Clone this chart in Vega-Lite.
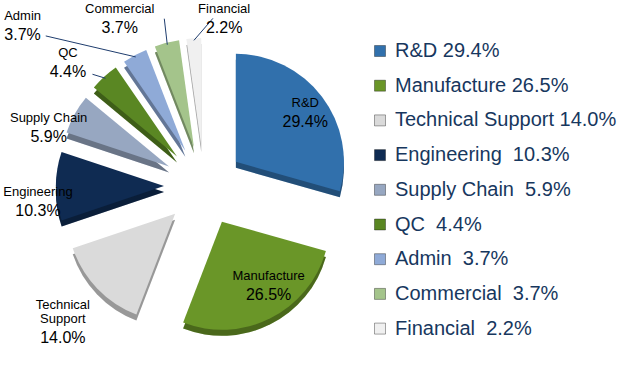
{
  "$schema": "https://vega.github.io/schema/vega-lite/v6.json",
  "width": 634,
  "height": 369,
  "autosize": {"type": "none"},
  "padding": 0,
  "background": "white",
  "config": {"view": {"stroke": null}, "font": "Liberation Sans"},
  "data": {
    "values": [
      {"category": "R&D", "value": 29.4, "name": "R&D", "pct": "29.4%", "legend": "R&D 29.4%"},
      {"category": "Manufacture", "value": 26.5, "name": "Manufacture", "pct": "26.5%", "legend": "Manufacture 26.5%"},
      {"category": "Technical Support", "value": 14.0, "name": "Technical\nSupport", "pct": "14.0%", "legend": "Technical Support 14.0%"},
      {"category": "Engineering", "value": 10.3, "name": "Engineering", "pct": "10.3%", "legend": "Engineering\u00a0 10.3%"},
      {"category": "Supply Chain", "value": 5.9, "name": "Supply Chain", "pct": "5.9%", "legend": "Supply Chain\u00a0 5.9%"},
      {"category": "QC", "value": 4.4, "name": "QC", "pct": "4.4%", "legend": "QC\u00a0 4.4%"},
      {"category": "Admin", "value": 3.7, "name": "Admin", "pct": "3.7%", "legend": "Admin\u00a0 3.7%"},
      {"category": "Commercial", "value": 3.7, "name": "Commercial", "pct": "3.7%", "legend": "Commercial\u00a0 3.7%"},
      {"category": "Financial", "value": 2.2, "name": "Financial", "pct": "2.2%", "legend": "Financial\u00a0 2.2%"}
    ]
  },
  "transform": [
    {"joinaggregate": [{"op": "sum", "field": "value", "as": "total"}]},
    {"window": [{"op": "sum", "field": "value", "as": "cum"}], "frame": [null, 0]},
    {"calculate": "(datum.cum - datum.value) / datum.total", "as": "t0"},
    {"calculate": "datum.cum / datum.total", "as": "t1"},
    {"calculate": "sin(PI * (datum.t0 + datum.t1))", "as": "ux"},
    {"calculate": "cos(PI * (datum.t0 + datum.t1))", "as": "uy"}
  ],
  "layer": [
    {
      "mark": {"type": "arc", "outerRadius": 108, "yOffset": 6},
      "encoding": {
        "theta": {"field": "t0", "type": "quantitative", "scale": {"domain": [0, 1]}, "stack": null},
        "theta2": {"field": "t1"},
        "x": {"field": "ux", "type": "quantitative", "scale": {"domain": [-1, 1], "range": [164, 244]}, "axis": null},
        "y": {"field": "uy", "type": "quantitative", "scale": {"domain": [-1, 1], "range": [226, 146]}, "axis": null},
        "color": {
          "field": "legend", "type": "nominal", "sort": null,
          "scale": {
            "domain": ["R&D 29.4%", "Manufacture 26.5%", "Technical Support 14.0%", "Engineering\u00a0 10.3%", "Supply Chain\u00a0 5.9%", "QC\u00a0 4.4%", "Admin\u00a0 3.7%", "Commercial\u00a0 3.7%", "Financial\u00a0 2.2%"],
            "range": ["#3170AC", "#6A9628", "#DADADA", "#0F2B52", "#97A7C1", "#5A8723", "#8FAAD7", "#A4C48B", "#F0F0F0"]
          },
          "legend": {
            "title": null, "orient": "none", "legendX": 370, "legendY": 41,
            "symbolType": "square", "symbolSize": 121, "symbolStrokeColor": "rgba(0,0,0,0.35)", "symbolStrokeWidth": 1,
            "labelFontSize": 20, "labelFont": "Liberation Sans", "labelColor": "#17375E", "labelOffset": 5,
            "rowPadding": 14.7, "padding": 0, "labelLimit": 300
          }
        }
      }
    },
    {
      "mark": {"type": "arc", "outerRadius": 108, "yOffset": 6, "fill": "#000000", "fillOpacity": 0.3},
      "encoding": {
        "theta": {"field": "t0", "type": "quantitative", "scale": {"domain": [0, 1]}, "stack": null},
        "theta2": {"field": "t1"},
        "x": {"field": "ux", "type": "quantitative", "scale": {"domain": [-1, 1], "range": [164, 244]}, "axis": null},
        "y": {"field": "uy", "type": "quantitative", "scale": {"domain": [-1, 1], "range": [226, 146]}, "axis": null}
      }
    },
    {
      "mark": {"type": "arc", "outerRadius": 108},
      "encoding": {
        "theta": {"field": "t0", "type": "quantitative", "scale": {"domain": [0, 1]}, "stack": null},
        "theta2": {"field": "t1"},
        "x": {"field": "ux", "type": "quantitative", "scale": {"domain": [-1, 1], "range": [164, 244]}, "axis": null},
        "y": {"field": "uy", "type": "quantitative", "scale": {"domain": [-1, 1], "range": [226, 146]}, "axis": null},
        "color": {"field": "legend", "type": "nominal", "sort": null}
      }
    },
    {
      "transform": [{"filter": "indexof(['Admin', 'QC', 'Commercial', 'Financial'], datum.category) >= 0"}],
      "mark": {"type": "rule", "stroke": "#1F3D6E", "strokeWidth": 1,
               "x2Offset": {"expr": "{'Admin': -90, 'QC': -13, 'Commercial': -3, 'Financial': 19}[datum.category]"},
               "y2Offset": {"expr": "{'Admin': -21, 'QC': -4, 'Commercial': -26, 'Financial': -22}[datum.category]"}},
      "encoding": {
        "x": {"field": "ux", "type": "quantitative", "scale": {"domain": [-1, 1], "range": [58, 350]}, "axis": null},
        "x2": {"field": "ux"},
        "y": {"field": "uy", "type": "quantitative", "scale": {"domain": [-1, 1], "range": [332, 40]}, "axis": null},
        "y2": {"field": "uy"}
      }
    },
    {
      "transform": [{"filter": "datum.value > 20"}],
      "mark": {"type": "text", "fontSize": 13, "align": "center", "baseline": "bottom", "fill": "#000000",
               "dx": {"expr": "{'R&D': 4, 'Manufacture': 10}[datum.category]"},
               "dy": {"expr": "{'R&D': 0, 'Manufacture': -10}[datum.category] - 2"}},
      "encoding": {
        "x": {"field": "ux", "type": "quantitative", "scale": {"domain": [-1, 1], "range": [82, 326]}, "axis": null},
        "y": {"field": "uy", "type": "quantitative", "scale": {"domain": [-1, 1], "range": [308, 64]}, "axis": null},
        "text": {"field": "name"}
      }
    },
    {
      "transform": [{"filter": "datum.value > 20"}],
      "mark": {"type": "text", "fontSize": 16, "align": "center", "baseline": "top", "fill": "#000000",
               "dx": {"expr": "{'R&D': 4, 'Manufacture': 10}[datum.category]"},
               "dy": {"expr": "{'R&D': 0, 'Manufacture': -10}[datum.category] + 2"}},
      "encoding": {
        "x": {"field": "ux", "type": "quantitative", "scale": {"domain": [-1, 1], "range": [82, 326]}, "axis": null},
        "y": {"field": "uy", "type": "quantitative", "scale": {"domain": [-1, 1], "range": [308, 64]}, "axis": null},
        "text": {"field": "pct"}
      }
    },
    {
      "transform": [{"filter": "datum.value < 20"}],
      "mark": {"type": "text", "fontSize": 13, "align": "center", "baseline": "bottom", "fill": "#000000", "lineBreak": "\n", "lineHeight": 14.5,
               "dx": {"expr": "{'Technical Support': -17, 'Engineering': 6, 'Supply Chain': -5, 'QC': -20, 'Admin': -101, 'Commercial': -41, 'Financial': 32}[datum.category]"},
               "dy": {"expr": "{'Technical Support': 8.5, 'Engineering': 15, 'Supply Chain': 24, 'QC': 3, 'Admin': -9, 'Commercial': -2, 'Financial': 4}[datum.category] - 2"}},
      "encoding": {
        "x": {"field": "ux", "type": "quantitative", "scale": {"domain": [-1, 1], "range": [32, 376]}, "axis": null},
        "y": {"field": "uy", "type": "quantitative", "scale": {"domain": [-1, 1], "range": [358, 14]}, "axis": null},
        "text": {"field": "name"}
      }
    },
    {
      "transform": [{"filter": "datum.value < 20"}],
      "mark": {"type": "text", "fontSize": 16, "align": "center", "baseline": "top", "fill": "#000000",
               "dx": {"expr": "{'Technical Support': -17, 'Engineering': 6, 'Supply Chain': -5, 'QC': -20, 'Admin': -101, 'Commercial': -41, 'Financial': 32}[datum.category]"},
               "dy": {"expr": "{'Technical Support': 23, 'Engineering': 15, 'Supply Chain': 24, 'QC': 3, 'Admin': -9, 'Commercial': -2, 'Financial': 4}[datum.category] + 2"}},
      "encoding": {
        "x": {"field": "ux", "type": "quantitative", "scale": {"domain": [-1, 1], "range": [32, 376]}, "axis": null},
        "y": {"field": "uy", "type": "quantitative", "scale": {"domain": [-1, 1], "range": [358, 14]}, "axis": null},
        "text": {"field": "pct"}
      }
    }
  ],
  "resolve": {"scale": {"x": "independent", "y": "independent"}}
}
